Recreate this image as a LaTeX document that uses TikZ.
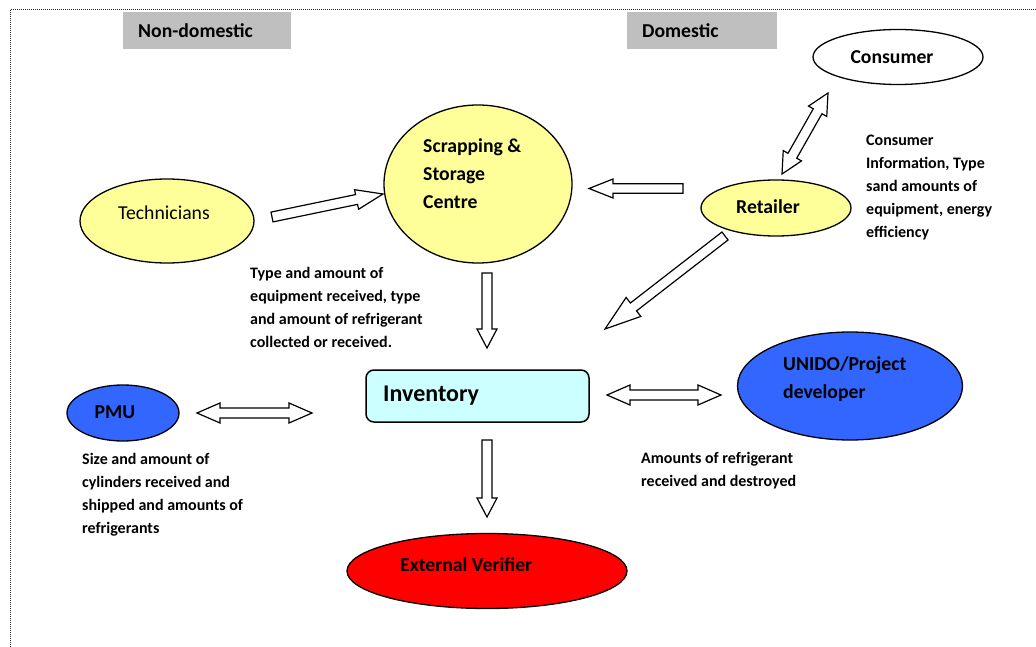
\documentclass[tikz,border=0pt]{standalone}
\usepackage{fontspec}
\setmainfont{Carlito}
\usetikzlibrary{shapes.geometric,calc}
\definecolor{yel}{HTML}{FFFF99}
\definecolor{blu}{HTML}{3366FF}
\definecolor{rd}{HTML}{FF0000}
\definecolor{cyn}{HTML}{CCFFFF}
\definecolor{hdrgray}{HTML}{BFBFBF}
\tikzset{
  ell/.style={ellipse, draw=black, line width=1.3pt, inner sep=0pt},
  lbl/.style={anchor=west, align=left, inner sep=0pt, font=\bfseries\fontsize{16}{23}\selectfont},
  big/.style={inner sep=0pt, font=\bfseries\fontsize{19.7}{28}\selectfont},
  bigl/.style={big, anchor=west, align=left},
  blk/.style={draw=black, fill=white, line width=1.2pt, line join=miter},
  hdr/.style={fill=hdrgray, inner sep=0pt, anchor=north west},
  frame/.style={draw=black!85, line width=1pt, dash pattern=on 0.9pt off 1.1pt}
}
% single block arrow: from, to, shaft half width, head half width, head length
\newcommand\blockarr[5]{%
  \draw[blk] let \p1=(#1), \p2=(#2), \n1={atan2(\y2-\y1,\x2-\x1)}, \n2={veclen(\x2-\x1,\y2-\y1)} in
    [shift={(\p1)}, rotate=\n1]
    (0,#3) -- ({\n2-#5},#3) -- ({\n2-#5},#4) -- (\n2,0) -- ({\n2-#5},-#4) -- ({\n2-#5},-#3) -- (0,-#3) -- cycle;}
% double block arrow
\newcommand\dblockarr[5]{%
  \draw[blk] let \p1=(#1), \p2=(#2), \n1={atan2(\y2-\y1,\x2-\x1)}, \n2={veclen(\x2-\x1,\y2-\y1)} in
    [shift={(\p1)}, rotate=\n1]
    (0,0) -- (#5,#4) -- (#5,#3) -- ({\n2-#5},#3) -- ({\n2-#5},#4) -- (\n2,0) -- ({\n2-#5},-#4) -- ({\n2-#5},-#3) -- (#5,-#3) -- (#5,-#4) -- cycle;}
\begin{document}
\begin{tikzpicture}[x=1pt, y=-1pt]
\useasboundingbox (0,0) rectangle (1036,647);
% frame
\draw[frame] (10,647) -- (10,10) -- (1036,10);
% headers
\node[hdr, minimum width=168pt, minimum height=37pt] (ndbox) at (123,12) {};
\node[hdr, minimum width=150pt, minimum height=37pt] (dbox) at (627,12) {};
\node[big, anchor=west] (ndtxt) at (138,31) {Non-domestic};
\node[big, anchor=west] (dtxt) at (642,31) {Domestic};
% ellipses
\node[ell, fill=white, minimum width=170pt, minimum height=55pt] (consumer) at (898,57) {};
\node[big] (consumertxt) at (892,57) {Consumer};
\node[ell, fill=yel, minimum width=188pt, minimum height=158pt] (scrap) at (478,184) {};
\node[bigl] (scraptxt) at (423,174) {Scrapping \&\\Storage\\Centre};
\node[ell, fill=yel, minimum width=174pt, minimum height=84pt] (tech) at (167,221) {};
\node[inner sep=0pt, font=\fontsize{19.7}{24}\selectfont] (techtxt) at (164,213) {Technicians};
\node[ell, fill=yel, minimum width=150pt, minimum height=56pt] (retailer) at (776,208) {};
\node[big] (retailertxt) at (768,207) {Retailer};
\node[ell, fill=blu, minimum width=112pt, minimum height=56pt] (pmu) at (123,413) {};
\node[big] (pmutxt) at (115,412) {PMU};
\node[ell, fill=blu, minimum width=225pt, minimum height=108pt] (unido) at (850,386) {};
\node[bigl] (unidotxt) at (783,379) {UNIDO/Project\\developer};
\node[ell, fill=rd, minimum width=280pt, minimum height=75pt] (ext) at (487,571) {};
\node[big, anchor=west] (exttxt) at (400,565) {External Verifier};
% inventory
\draw[fill=cyn, draw=black, line width=1.5pt, rounded corners=8pt] (366,370) rectangle (589,422);
\node[inner sep=0pt, anchor=west, font=\bfseries\fontsize{24}{28}\selectfont] (inv) at (383,396) {Inventory};
% labels
\node[lbl] (lab1) at (250,307) {Type and amount of\\equipment received, type\\and amount of refrigerant\\collected or received.};
\node[lbl] (lab2) at (866,188) {Consumer\\Information, Type\\sand amounts of\\equipment, energy\\efficiency};
\node[lbl] (lab3) at (82,494.5) {Size and amount of\\cylinders received and\\shipped and amounts of\\refrigerants};
\node[lbl] (lab4) at (641,471) {Amounts of refrigerant\\received and destroyed};
% arrow end points
\coordinate (a1s) at (272,217); \coordinate (a1e) at (383,194);
\coordinate (a2s) at (683,188.5); \coordinate (a2e) at (589,188.5);
\coordinate (a3s) at (487,273); \coordinate (a3e) at (487,348);
\coordinate (a4s) at (725,236); \coordinate (a4e) at (605,329);
\coordinate (a5s) at (782,174); \coordinate (a5e) at (828,93);
\coordinate (a6s) at (197,413); \coordinate (a6e) at (312,413);
\coordinate (a7s) at (607,395); \coordinate (a7e) at (721,395);
\coordinate (a8s) at (487,440); \coordinate (a8e) at (487,517);
% arrows
\blockarr{a1s}{a1e}{5}{10}{27}
\blockarr{a2s}{a2e}{4.8}{9.5}{24}
\blockarr{a3s}{a3e}{5}{10}{19}
\blockarr{a4s}{a4e}{5}{12}{36}
\dblockarr{a5s}{a5e}{5}{10.5}{21}
\dblockarr{a6s}{a6e}{5}{10}{23}
\dblockarr{a7s}{a7e}{5}{10}{23}
\blockarr{a8s}{a8e}{5}{10}{19}
\end{tikzpicture}
\end{document}
